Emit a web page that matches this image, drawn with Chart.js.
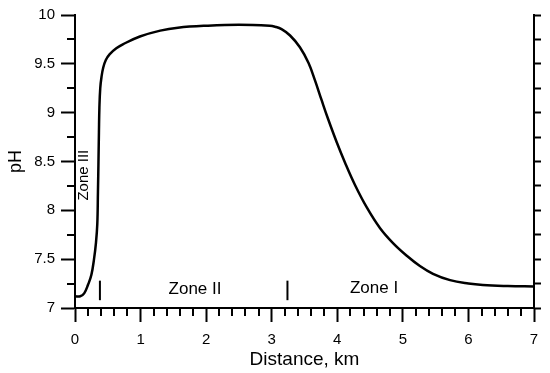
<!DOCTYPE html>
<html>
<head>
<meta charset="utf-8">
<script src="https://cdn.jsdelivr.net/npm/chart.js@4/dist/chart.umd.min.js"></script>
<style>
html, body { margin: 0; padding: 0; background: #fff; }
#wrap { width: 550px; height: 373px; }
</style>
</head>
<body>
<div id="wrap"><canvas id="myChart" width="550" height="373"></canvas></div>
<script>
// pH profile
var distanceKm = [0, 0.08, 0.14, 0.2, 0.25, 0.29, 0.32, 0.34, 0.35, 0.358, 0.365, 0.372, 0.385, 0.405, 0.43, 0.47, 0.53, 0.63, 0.73, 0.99, 1.3, 1.57, 2.0, 2.5, 2.97, 3.05, 3.15, 3.28, 3.43, 3.56, 3.66, 3.76, 3.86, 3.99, 4.12, 4.27, 4.45, 4.65, 4.85, 5.06, 5.26, 5.46, 5.72, 6.0, 6.22, 6.6, 7.0];
var phValues = [7.12, 7.12, 7.15, 7.24, 7.34, 7.5, 7.67, 7.86, 8.19, 8.5, 8.8, 9.05, 9.25, 9.37, 9.46, 9.54, 9.6, 9.66, 9.7, 9.78, 9.84, 9.87, 9.89, 9.9, 9.89, 9.88, 9.855, 9.79, 9.67, 9.51, 9.33, 9.13, 8.935, 8.7, 8.485, 8.26, 8.03, 7.82, 7.665, 7.535, 7.43, 7.35, 7.285, 7.25, 7.235, 7.225, 7.22];

// zone boundary marks (short vertical bars)
var zoneBoundaryKm = [0.38, 3.24];
var zoneMarkPh = [7.08, 7.28];

// zone names
var zoneNames = ["Zone III", "Zone II", "Zone I"];
var zoneNameKm = [0.14, 1.83, 4.56];
var zoneNamePh = [8.36, 7.19, 7.2];

var FONT = "'Liberation Sans', Arial, sans-serif";
Chart.defaults.font.family = FONT;
Chart.defaults.color = "#000";

var curve = distanceKm.map(function(d, i){ return {x: d, y: phValues[i]}; });

var datasets = [{
	data: curve,
	showLine: true,
	borderColor: "#000",
	borderWidth: 2.5,
	pointRadius: 0,
	tension: 0.4,
	fill: false
}];
zoneBoundaryKm.forEach(function(b){
	datasets.push({
		data: [{x: b, y: zoneMarkPh[0]}, {x: b, y: zoneMarkPh[1]}],
		showLine: true,
		borderColor: "#000",
		borderWidth: 2,
		pointRadius: 0
	});
});

var extrasPlugin = {
	id: "extras",
	afterDraw: function(chart){
		var ctx = chart.ctx;
		var xs = chart.scales.x, ys = chart.scales.y;
		ctx.save();
		ctx.strokeStyle = "#000";
		ctx.lineWidth = 2;
		// minor ticks, x every 0.2 km
		for (var i = 0; i <= 35; i++){
			if (i % 5 == 0) continue;
			var px = Math.round(xs.getPixelForValue(i * 0.2));
			ctx.beginPath();
			ctx.moveTo(px, ys.bottom);
			ctx.lineTo(px, ys.bottom + 8);
			ctx.stroke();
		}
		// minor ticks, y every 0.25
		for (var j = 0; j <= 12; j++){
			if (j % 2 == 0) continue;
			var py = Math.round(ys.getPixelForValue(7 + j * 0.25));
			ctx.beginPath();
			ctx.moveTo(xs.left - 8, py);
			ctx.lineTo(xs.left, py);
			ctx.stroke();
		}
		// zone names
		ctx.fillStyle = "#000";
		ctx.textAlign = "center";
		ctx.textBaseline = "middle";
		zoneNames.forEach(function(name, k){
			var tx = xs.getPixelForValue(zoneNameKm[k]);
			var ty = ys.getPixelForValue(zoneNamePh[k]);
			ctx.save();
			ctx.translate(tx, ty);
			if (name == "Zone III"){
				ctx.rotate(-Math.PI / 2);
				ctx.font = "15px " + FONT;
			} else {
				ctx.font = "17px " + FONT;
			}
			ctx.fillText(name, 0, 0);
			ctx.restore();
		});
		ctx.restore();
	}
};

var config = {
	type: "scatter",
	data: {datasets: datasets},
	plugins: [extrasPlugin],
	options: {
		responsive: false,
		animation: false,
		layout: {padding: {top: 10, left: 0, right: 0, bottom: 0}},
		plugins: {legend: {display: false}, tooltip: {enabled: false}},
		scales: {
			x: {
				type: "linear",
				position: "bottom",
				min: 0, max: 7,
				ticks: {stepSize: 1, font: {size: 15}, color: "#000", padding: 9},
				grid: {drawOnChartArea: false, tickLength: 14, tickWidth: 2, color: "#000"},
				border: {color: "#000", width: 2},
				title: {display: true, text: "Distance, km", font: {size: 19}, color: "#000", padding: {top: 0, bottom: 2}},
				afterFit: function(s){ s.height = 65; }
			},
			y: {
				position: "left",
				min: 7, max: 10,
				ticks: {stepSize: 0.5, font: {size: 15}, color: "#000", padding: 6,
					callback: function(v){ return String(v); }},
				grid: {drawOnChartArea: false, tickLength: 14, tickWidth: 2, color: "#000"},
				border: {color: "#000", width: 2},
				title: {display: true, text: "pH", font: {size: 18}, color: "#000", padding: {top: 5, bottom: 0}},
				afterFit: function(s){ s.width = 75; }
			},
			y2: {
				position: "right",
				min: 7, max: 10,
				ticks: {display: false, stepSize: 0.25},
				grid: {drawOnChartArea: false, tickLength: 7, tickWidth: 2, color: "#000"},
				border: {color: "#000", width: 2},
				afterFit: function(s){ s.width = 16; }
			}
		}
	}
};

var myChart = new Chart(document.getElementById("myChart").getContext("2d"), config);
</script>
</body>
</html>
